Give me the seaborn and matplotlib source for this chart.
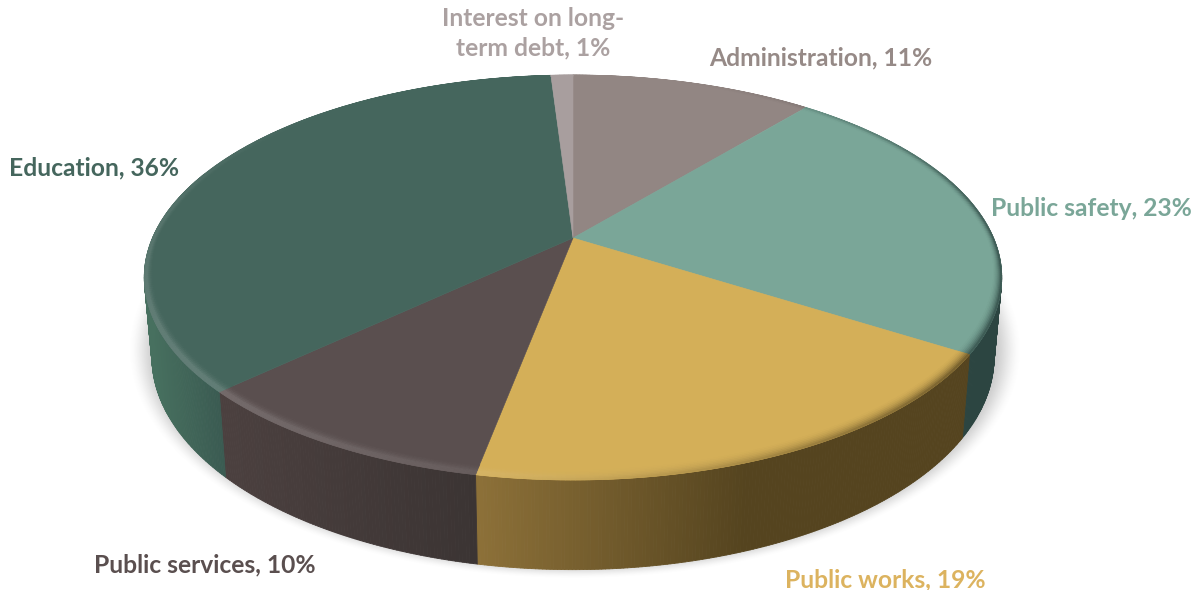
import numpy as np
import matplotlib
matplotlib.use("Agg")
import matplotlib.pyplot as plt
from matplotlib.collections import PolyCollection
from matplotlib.colors import to_rgb
import seaborn as sns

# Share of spending by category, clockwise from twelve o'clock
categories = ["Administration", "Public safety", "Public works",
              "Public services", "Education", "Interest on long-\nterm debt"]
shares = [11, 23, 19, 10, 36, 1]

top_hex = ["#928683", "#7aa698", "#d4af58", "#5a4f4f", "#45665d", "#a89e9e"]
text_hex = ["#968a87", "#7aa698", "#dcb35f", "#5a4f4f", "#45665d", "#aba1a1"]
# Side wall colours per slice at its left and right ends
wall_left_hex = ["#5a504e", "#2c4541", "#8c7038", "#4b403f", "#47705f", "#6a6060"]
wall_right_hex = ["#5a504e", "#2c4541", "#55441f", "#3b3433", "#395850", "#6a6060"]
wall_x_span = [(0, 1), (900, 1000), (480, 745), (228, 477), (150, 228), (0, 1)]

label_xy = [(821, 58), (1091, 208), (885, 580), (205, 565), (94, 168), (533, 33)]

sns.set_theme(style="white")
plt.rcParams["font.family"] = ["Lato", "DejaVu Sans"]
palette = sns.color_palette(top_hex)

W, H = 1192, 590
fig = plt.figure(figsize=(W / 100, H / 100), dpi=100, facecolor="white")
ax = fig.add_axes([0, 0, 1, 1])

# Perspective disc: depth coefficient, apex and half-axes for the top and bottom faces
K = 0.195
CX = 573


def project(theta, r=1.0, y0=238.0, a=194.8, b=420.5):
    X, Y = r * np.sin(theta), r * np.cos(theta)
    w = 1 + K * Y
    return CX + b * X / w, y0 - a * Y / w


def bottom(theta):
    return project(theta, 1.0, 315.6, 204.5, 413.0)


# Soft ground shadow around the lower half of the disc
gx, gy = np.meshgrid(np.arange(W) + 0.5, np.arange(H) + 0.5)
d = np.sqrt(((gx - 575) / 447.0) ** 2 + ((gy - 350) / 229.0) ** 2)
fall = np.clip((1.0 - d) / 0.075, 0, 1)
fall = fall * fall * (3 - 2 * fall)
shadow = np.zeros((H, W, 4))
shadow[..., :3] = 0.45
shadow[..., 3] = 0.42 * fall
ax.imshow(shadow, extent=(0, W, H, 0), aspect="auto", zorder=0, interpolation="bilinear")

edges = np.cumsum([0] + shares) / sum(shares) * 2 * np.pi


def mix(c, other, t):
    c, other = np.array(c), np.array(other)
    return tuple(c + (other - c) * t)


# Side wall, built from narrow vertical strips so the shading runs across it
polys, cols = [], []
for i in range(len(shares)):
    lo, hi = edges[i], edges[i + 1]
    thetas = np.linspace(lo, hi, max(3, int((hi - lo) * 140)))
    left, right = to_rgb(wall_left_hex[i]), to_rgb(wall_right_hex[i])
    x0, x1 = wall_x_span[i]
    for t0, t1 in zip(thetas[:-1], thetas[1:]):
        if np.cos((t0 + t1) / 2) > 0.35:
            continue
        ax0, ay0 = project(t0)
        ax1, ay1 = project(t1)
        bx0, by0 = bottom(t0)
        bx1, by1 = bottom(t1)
        polys.append([(ax0, ay0), (ax1, ay1), (bx1, by1), (bx0, by0)])
        frac = np.clip(((ax0 + ax1) / 2 - x0) / (x1 - x0), 0, 1)
        cols.append(mix(left, right, frac))
ax.add_collection(PolyCollection(polys, facecolors=cols, edgecolors=cols, linewidths=0.6, zorder=2))

# Flat top face of every slice
for i in range(len(shares)):
    thetas = np.linspace(edges[i], edges[i + 1], 200)
    xs, ys = project(thetas)
    ax.fill(np.r_[CX, xs], np.r_[238, ys], color=palette[i], lw=0.4, zorder=3)


def rim_width(theta):
    # The bevel keeps a near-constant pixel width and thins toward the far edge
    X, Y = np.sin(theta), np.cos(theta)
    return 0.036 * (0.45 * abs(X) + abs(Y) * (0.65 - 0.35 * Y))


# Bevel along the rim: lit on the left and front, falling into shade on the right
steps = np.linspace(0, 1, 9)
polys, cols = [], []
for i in range(len(shares)):
    lo, hi = edges[i], edges[i + 1]
    thetas = np.linspace(lo, hi, max(3, int((hi - lo) * 110)))
    base = palette[i]
    wall = to_rgb(wall_right_hex[i])
    for t0, t1 in zip(thetas[:-1], thetas[1:]):
        tm = (t0 + t1) / 2
        lit = max(np.cos(tm - np.radians(235)), 0) ** 2
        dark = max(np.cos(tm - np.radians(105)), 0) ** 1.5
        for s0, s1 in zip(steps[:-1], steps[1:]):
            u = (s0 + s1) / 2
            bump = np.clip(u / 0.7, 0, 1) ** 2
            colour = mix(base, (1, 1, 1), 0.16 * lit * bump)
            colour = mix(colour, wall, 0.9 * dark * u ** 2)
            w0, w1 = rim_width(t0), rim_width(t1)
            polys.append([project(t0, 1 - w0 * (1 - s0)), project(t1, 1 - w1 * (1 - s0)),
                          project(t1, 1 - w1 * (1 - s1)), project(t0, 1 - w0 * (1 - s1))])
            cols.append(colour)
ax.add_collection(PolyCollection(polys, facecolors=cols, edgecolors=cols, linewidths=0.5, zorder=4))

# Category labels
for name, share, (lx, ly), colour in zip(categories, shares, label_xy, text_hex):
    ax.text(lx, ly, f"{name}, {share}%", color=colour, fontsize=17.7, fontweight="bold",
            ha="center", va="center", linespacing=1.36, zorder=6)

ax.set_xlim(0, W)
ax.set_ylim(H, 0)
ax.axis("off")
fig.savefig("out.png", dpi=100, facecolor="white")
